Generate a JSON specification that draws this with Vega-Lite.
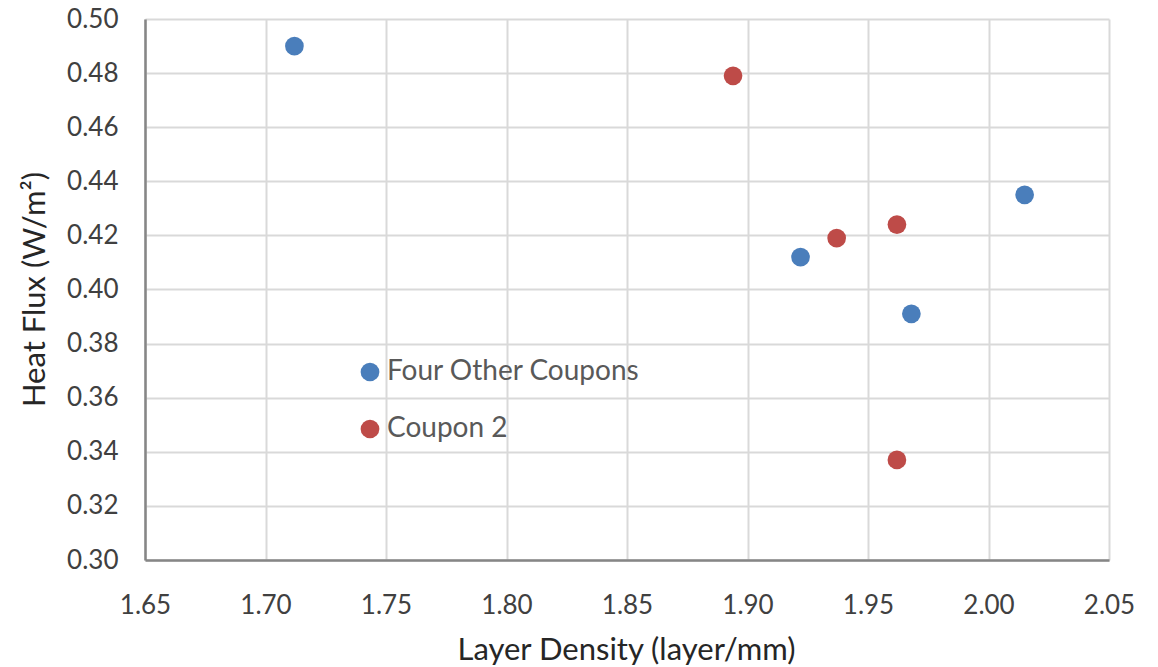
{
  "$schema": "https://vega.github.io/schema/vega-lite/v6.json",
  "autosize": {"type": "none"},
  "width": 964,
  "height": 541,
  "padding": {"left": 145, "top": 19, "right": 49, "bottom": 107},
  "background": "white",
  "config": {
    "view": {"stroke": null},
    "font": "Lato"
  },
  "data": {
    "values": [
      {"density": 1.712, "flux": 0.490, "series": "Four Other Coupons"},
      {"density": 2.015, "flux": 0.435, "series": "Four Other Coupons"},
      {"density": 1.922, "flux": 0.412, "series": "Four Other Coupons"},
      {"density": 1.968, "flux": 0.391, "series": "Four Other Coupons"},
      {"density": 1.894, "flux": 0.479, "series": "Coupon 2"},
      {"density": 1.962, "flux": 0.424, "series": "Coupon 2"},
      {"density": 1.937, "flux": 0.419, "series": "Coupon 2"},
      {"density": 1.962, "flux": 0.337, "series": "Coupon 2"}
    ]
  },
  "mark": {"type": "point", "filled": true, "opacity": 1, "size": 350, "shape": "circle"},
  "encoding": {
    "x": {
      "field": "density",
      "type": "quantitative",
      "scale": {"domain": [1.65, 2.05], "nice": false, "zero": false},
      "axis": {
        "title": "Layer Density (layer/mm)",
        "values": [1.65, 1.7, 1.75, 1.8, 1.85, 1.9, 1.95, 2.0, 2.05],
        "format": ".2f",
        "grid": true,
        "gridColor": "#D9D9D9",
        "gridWidth": 2,
        "domainColor": "#868686",
        "domainWidth": 2.5,
        "ticks": false,
        "labelFontSize": 26,
        "labelColor": "#404040",
        "labelBaseline": "middle",
        "labelPadding": 45,
        "labelFlush": false,
        "titleFontSize": 31,
        "titleFontWeight": "normal",
        "titleColor": "#262626",
        "titleX": 481,
        "titleY": 90,
        "titleBaseline": "middle"
      }
    },
    "y": {
      "field": "flux",
      "type": "quantitative",
      "scale": {"domain": [0.3, 0.5], "nice": false, "zero": false},
      "axis": {
        "title": "Heat Flux (W/m²)",
        "values": [0.3, 0.32, 0.34, 0.36, 0.38, 0.4, 0.42, 0.44, 0.46, 0.48, 0.5],
        "format": ".2f",
        "grid": true,
        "gridColor": "#D9D9D9",
        "gridWidth": 2,
        "domainColor": "#868686",
        "domainWidth": 2.5,
        "ticks": false,
        "labelFontSize": 26,
        "labelColor": "#404040",
        "labelPadding": 27,
        "labelFlush": false,
        "titleFontSize": 31,
        "titleFontWeight": "normal",
        "titleColor": "#262626",
        "titleX": -110,
        "titleY": 270,
        "titleAngle": -90,
        "titleAlign": "center",
        "titleBaseline": "middle"
      }
    },
    "color": {
      "field": "series",
      "type": "nominal",
      "scale": {"domain": ["Four Other Coupons", "Coupon 2"], "range": ["#4A7EBB", "#BE4B48"]},
      "legend": {
        "title": null,
        "orient": "none",
        "legendX": 211,
        "legendY": 339,
        "padding": 0,
        "symbolType": "circle",
        "symbolSize": 350,
        "symbolStrokeWidth": 0,
        "labelFontSize": 28,
        "labelLimit": 400,
        "labelColor": "#595959",
        "labelOffset": 3,
        "rowPadding": 29,
        "fillColor": null
      }
    }
  }
}
